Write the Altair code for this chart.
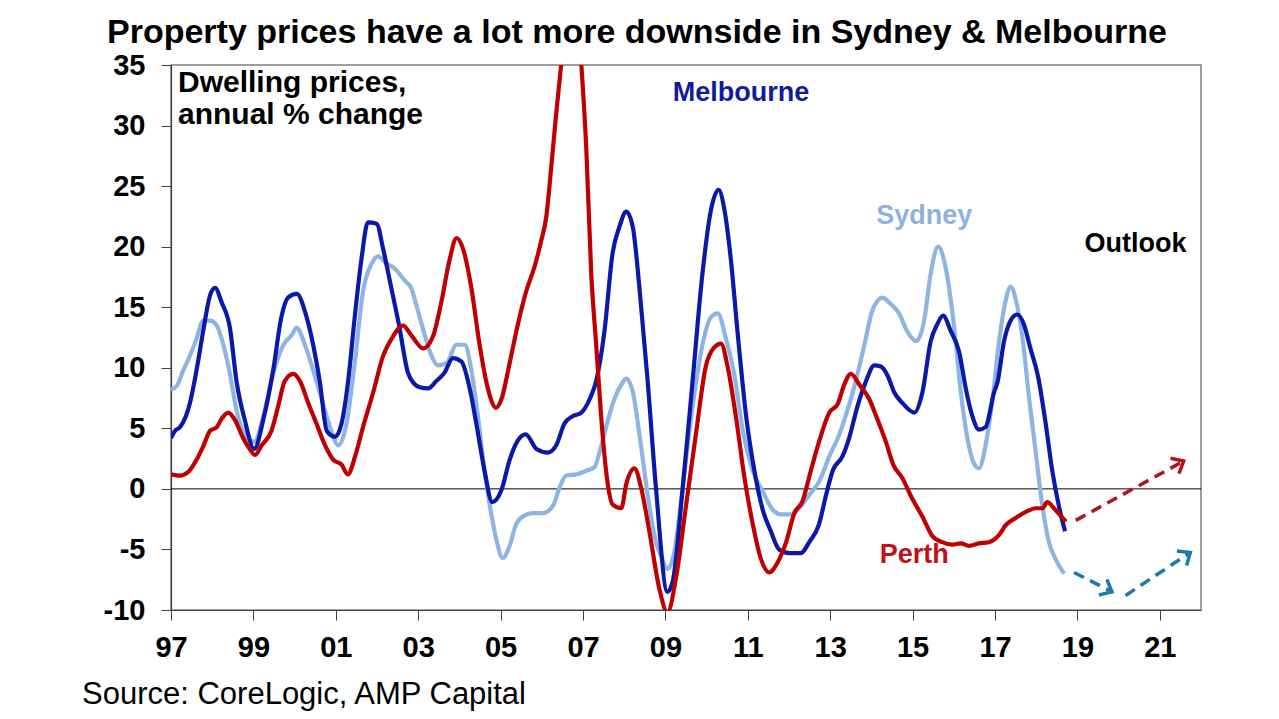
import math
import altair as alt
import pandas as pd

# ---------------- data ----------------
x_tick_years = [1997, 1999, 2001, 2003, 2005, 2007, 2009, 2011, 2013, 2015, 2017, 2019, 2021]
y_ticks = [-10, -5, 0, 5, 10, 15, 20, 25, 30, 35]

mel_years = [1997.0, 1997.1, 1997.22, 1997.46, 1997.62, 1997.78, 1997.95, 1998.07, 1998.23, 1998.43,
             1998.59, 1998.79, 1999.02, 1999.24, 1999.48, 1999.68, 1999.84, 2000.05, 2000.29, 2000.45,
             2000.61, 2000.78, 2000.98, 2001.14, 2001.30, 2001.46, 2001.62, 2001.78, 2001.99, 2002.15,
             2002.31, 2002.53, 2002.75, 2002.9, 2003.04, 2003.24, 2003.44, 2003.64, 2003.84, 2004.05,
             2004.25, 2004.41, 2004.61, 2004.80, 2005.02, 2005.22, 2005.42, 2005.61, 2005.87, 2006.15,
             2006.35, 2006.55, 2006.75, 2006.96, 2007.16, 2007.32, 2007.52, 2007.72, 2007.88, 2008.05,
             2008.21, 2008.37, 2008.57, 2008.77, 2009.05, 2009.18, 2009.42, 2009.66, 2009.90, 2010.11,
             2010.29, 2010.43, 2010.59, 2010.75, 2010.96, 2011.16, 2011.36, 2011.56, 2011.76, 2012.01,
             2012.29, 2012.49, 2012.73, 2012.90, 2013.06, 2013.30, 2013.46, 2013.66, 2013.87, 2014.07,
             2014.23, 2014.40, 2014.55, 2014.75, 2015.04, 2015.24, 2015.44, 2015.60, 2015.74, 2015.93,
             2016.13, 2016.29, 2016.45, 2016.61, 2016.77, 2016.98, 2017.06, 2017.22, 2017.38, 2017.54,
             2017.70, 2017.86, 2018.05, 2018.23, 2018.39, 2018.55, 2018.70]
mel_vals = [4.2, 4.8, 5.1, 7.1, 9.8, 13.0, 16.0, 16.6, 15.4, 13.3,
            8.9, 5.7, 3.3, 5.7, 9.8, 14.2, 15.8, 16.1, 14.2, 11.9,
            8.9, 4.8, 4.3, 5.4, 8.9, 14.2, 18.9, 22.0, 21.9, 19.8,
            17.2, 13.6, 9.6, 8.7, 8.4, 8.3, 8.9, 9.6, 10.8, 10.5,
            8.3, 5.4, 1.5, -1.1, -0.1, 2.4, 4.0, 4.5, 3.3, 3.0,
            3.6, 5.4, 6.0, 6.3, 7.4, 8.9, 13.0, 19.5, 21.6, 22.9,
            21.6, 16.6, 8.9, 0.1, -8.5, -7.6, 0.1, 8.9, 17.8, 23.1,
            24.7, 23.1, 18.9, 13.0, 6.0, 1.5, -1.7, -3.5, -5.0, -5.3,
            -5.3, -4.4, -2.9, -0.5, 1.5, 2.7, 4.2, 6.8, 8.9, 10.2,
            10.1, 9.3, 8.0, 7.1, 6.3, 8.0, 12.2, 13.6, 14.3, 13.0,
            11.3, 8.3, 6.0, 4.9, 5.1, 8.0, 8.8, 12.2, 13.9, 14.4,
            13.6, 11.6, 9.2, 5.4, 1.5, -1.4, -3.5]

syd_years = [1997.0, 1997.14, 1997.30, 1997.46, 1997.62, 1997.78, 1997.95, 1998.11, 1998.27, 1998.43,
             1998.59, 1998.79, 1999.02, 1999.24, 1999.48, 1999.73, 1999.93, 2000.05, 2000.25, 2000.45,
             2000.66, 2000.86, 2001.06, 2001.26, 2001.46, 2001.66, 2001.87, 2002.03, 2002.23, 2002.43,
             2002.67, 2002.83, 2002.96, 2003.16, 2003.32, 2003.48, 2003.69, 2003.93, 2004.13, 2004.29,
             2004.45, 2004.61, 2004.77, 2004.89, 2005.05, 2005.22, 2005.38, 2005.58, 2005.78, 2006.03,
             2006.27, 2006.43, 2006.59, 2006.84, 2007.08, 2007.28, 2007.40, 2007.56, 2007.76, 2007.93,
             2008.05, 2008.21, 2008.37, 2008.57, 2008.77, 2008.9, 2009.05, 2009.21, 2009.42, 2009.66,
             2009.90, 2010.11, 2010.27, 2010.47, 2010.67, 2010.88, 2011.12, 2011.36, 2011.60, 2011.81,
             2012.05, 2012.25, 2012.49, 2012.73, 2012.98, 2013.22, 2013.42, 2013.62, 2013.83, 2014.03,
             2014.27, 2014.43, 2014.67, 2014.87, 2015.09, 2015.28, 2015.44, 2015.62, 2015.80, 2016.01,
             2016.17, 2016.33, 2016.49, 2016.61, 2016.77, 2016.94, 2017.10, 2017.25, 2017.38, 2017.52,
             2017.67, 2017.83, 2017.99, 2018.15, 2018.31, 2018.47, 2018.68]
syd_vals = [8.2, 8.5, 9.8, 11.0, 12.4, 13.9, 13.9, 13.5, 11.9, 9.5,
            6.5, 4.5, 3.9, 6.0, 9.5, 11.9, 12.7, 13.3, 11.9, 9.8,
            7.4, 5.1, 3.6, 5.4, 10.4, 16.3, 18.6, 19.2, 18.6, 18.2,
            17.2, 16.6, 15.1, 12.7, 11.0, 10.2, 10.4, 11.9, 11.9, 9.8,
            6.0, 1.5, -2.0, -4.1, -5.7, -4.7, -2.9, -2.2, -2.0, -2.0,
            -1.4, 0.1, 1.1, 1.2, 1.5, 1.8, 3.0, 5.1, 7.4, 8.6,
            9.1, 8.0, 4.5, -0.5, -4.4, -5.6, -6.6, -5.3, 0.1, 6.8,
            11.9, 14.2, 14.5, 12.4, 9.5, 4.8, 1.5, -0.2, -1.7, -2.1,
            -2.1, -1.6, -0.5, 0.6, 2.7, 4.5, 6.5, 8.9, 11.9, 14.8,
            15.8, 15.4, 14.5, 13.0, 12.2, 13.9, 17.8, 20.0, 18.3, 13.3,
            8.0, 4.2, 2.1, 1.7, 3.6, 7.4, 12.2, 15.4, 16.7, 15.4,
            12.4, 7.4, 3.0, -1.4, -4.4, -5.8, -7.0]

per_years = [1997.0, 1997.22, 1997.42, 1997.62, 1997.78, 1997.95, 1998.11, 1998.23, 1998.39, 1998.55,
             1998.75, 1998.91, 1999.04, 1999.20, 1999.44, 1999.60, 1999.76, 1999.97, 2000.13, 2000.33,
             2000.53, 2000.74, 2000.94, 2001.14, 2001.29, 2001.47, 2001.66, 2001.91, 2002.15, 2002.39,
             2002.63, 2002.83, 2003.12, 2003.36, 2003.56, 2003.76, 2003.93, 2004.09, 2004.29, 2004.49,
             2004.69, 2004.89, 2005.02, 2005.22, 2005.42, 2005.62, 2005.82, 2005.98, 2006.11, 2006.23,
             2006.35, 2006.47, 2006.6, 2006.72, 2006.85, 2006.96, 2007.08, 2007.20, 2007.32, 2007.44,
             2007.56, 2007.72, 2007.93, 2008.05, 2008.25, 2008.41, 2008.61, 2008.85, 2009.05, 2009.26,
             2009.50, 2009.74, 2009.98, 2010.19, 2010.35, 2010.51, 2010.71, 2010.92, 2011.12, 2011.32,
             2011.52, 2011.72, 2011.93, 2012.13, 2012.33, 2012.53, 2012.73, 2012.98, 2013.18, 2013.34,
             2013.50, 2013.71, 2013.95, 2014.15, 2014.35, 2014.53, 2014.75, 2014.99, 2015.24, 2015.48,
             2015.72, 2015.96, 2016.17, 2016.37, 2016.61, 2016.85, 2017.10, 2017.26, 2017.50, 2017.75,
             2017.99, 2018.15, 2018.27, 2018.43, 2018.59, 2018.72]
per_vals = [1.2, 1.1, 1.4, 2.4, 3.5, 4.8, 5.1, 5.8, 6.3, 5.7,
            4.2, 3.3, 2.8, 3.6, 4.8, 6.8, 8.9, 9.5, 8.9, 7.1,
            5.4, 3.6, 2.4, 2.0, 1.2, 2.7, 5.1, 8.0, 11.0, 12.6,
            13.5, 12.7, 11.6, 12.6, 15.4, 18.9, 20.7, 19.8, 16.6, 11.9,
            8.3, 6.7, 7.4, 10.4, 13.6, 16.3, 18.3, 20.4, 22.5, 26.6,
            31.0, 35.0, 39.5, 41.5, 39.5, 35.0, 28.1, 17.8, 11.9, 6.0,
            1.5, -1.3, -1.6, 0.4, 1.7, 0.1, -3.5, -8.2, -10.2, -7.3,
            -1.4, 4.5, 10.1, 11.7, 12.0, 10.1, 6.0, 0.9, -2.9, -5.8,
            -6.9, -6.1, -4.4, -2.0, -1.0, 1.5, 3.9, 6.3, 7.0, 8.6,
            9.5, 8.6, 7.4, 5.7, 3.9, 2.0, 0.9, -0.8, -2.3, -3.9,
            -4.4, -4.6, -4.5, -4.7, -4.5, -4.4, -3.8, -3.0, -2.4, -1.9,
            -1.6, -1.6, -1.1, -1.6, -2.2, -2.7]

# outlook arrows: (segment, start year, start value, end year, end value, colour)
outlook_seg = ["perth", "syd_down", "syd_up"]
outlook_x0 = [2018.96, 2018.92, 2020.17]
outlook_y0 = [-2.6, -6.9, -8.8]
outlook_x1 = [2021.58, 2019.84, 2021.74]
outlook_y1 = [2.3, -8.5, -5.25]
outlook_col = ["#b5121b", "#1c79ad", "#1c79ad"]

# annotations (text, year, value, colour, font size)
ann_text = ["Dwelling prices,", "annual % change", "Melbourne", "Sydney", "Outlook", "Perth"]
ann_x = [1997.17, 1997.17, 2009.18, 2014.12, 2019.17, 2014.2]
ann_y = [32.8, 30.1, 32.0, 21.9, 19.6, -6.1]
ann_col = ["#000000", "#000000", "#0f1c9e", "#8fb2dd", "#000000", "#c0101a"]
ann_size = [30, 30, 27, 27, 27, 27]

title_text = "Property prices have a lot more downside in Sydney & Melbourne"
source_text = "Source: CoreLogic, AMP Capital"

MEL_COL = "#0b19a8"
SYD_COL = "#8db4e2"
PER_COL = "#c00000"

# ---------------- chart ----------------
W, H = 1030, 545
X_DOM = [1997, 2022]
Y_DOM = [-10, 35]
FONT = "Liberation Sans"

xs = alt.Scale(domain=X_DOM, nice=False, zero=False)
ys = alt.Scale(domain=Y_DOM, nice=False, zero=False)
x_axis = alt.Axis(values=x_tick_years, labelExpr="substring(toString(datum.value), 2, 4)",
                  title=None, labelPadding=13, labelFlush=False)
y_axis = alt.Axis(values=y_ticks, labelExpr="toString(datum.value)", title=None, labelPadding=16)


def X(field="year"):
    return alt.X(f"{field}:Q", scale=xs, axis=x_axis)


def Y(field="val"):
    return alt.Y(f"{field}:Q", scale=ys, axis=y_axis)


def line_layer(years, vals, color):
    df = pd.DataFrame({"year": years, "val": vals})
    return alt.Chart(df).mark_line(color=color, strokeWidth=4.2, clip=True, interpolate="monotone",
                                   strokeJoin="round").encode(x=X(), y=Y())


zero = alt.Chart(pd.DataFrame({"val": [0]})).mark_rule(color="#000000", strokeWidth=1).encode(y=Y())

syd = line_layer(syd_years, syd_vals, SYD_COL)
mel = line_layer(mel_years, mel_vals, MEL_COL)
per = line_layer(per_years, per_vals, PER_COL)

rows = []
for s, a, b, c, d, col in zip(outlook_seg, outlook_x0, outlook_y0, outlook_x1, outlook_y1, outlook_col):
    rows.append({"seg": s, "year": a, "val": b, "col": col})
    rows.append({"seg": s, "year": c, "val": d, "col": col})
out_df = pd.DataFrame(rows)
outlook = alt.Chart(out_df).mark_line(strokeWidth=3.5, strokeDash=[11, 7]).encode(
    x=X(), y=Y(), detail="seg:N", color=alt.Color("col:N", scale=None))

px_year = W / (X_DOM[1] - X_DOM[0])
px_val = H / (Y_DOM[1] - Y_DOM[0])
heads = []
for s, a, b, c, d, col in zip(outlook_seg, outlook_x0, outlook_y0, outlook_x1, outlook_y1, outlook_col):
    ang = math.degrees(math.atan2(-(d - b) * px_val, (c - a) * px_year)) % 360
    heads.append({"year": c, "val": d, "ang": ang, "col": col})
head_df = pd.DataFrame(heads)
arrow_path = "M -1 -0.85 L 0 0 L -1 0.85"
arrowheads = alt.Chart(head_df).mark_point(shape=arrow_path, filled=False, strokeWidth=3.5,
                                           size=420, opacity=1).encode(
    x=X(), y=Y(), angle=alt.Angle("ang:Q", scale=None), color=alt.Color("col:N", scale=None))

ann_df = pd.DataFrame({"t": ann_text, "year": ann_x, "val": ann_y, "col": ann_col, "fs": ann_size})
annotations = alt.Chart(ann_df).mark_text(align="left", baseline="alphabetic", font=FONT,
                                          fontWeight="bold").encode(
    x=X(), y=Y(), text="t:N", color=alt.Color("col:N", scale=None), size=alt.Size("fs:Q", scale=None))

source = alt.Chart(pd.DataFrame({"t": [source_text]})).mark_text(
    align="left", baseline="middle", font=FONT, fontSize=31, color="#000000").encode(
    x=alt.value(-89), y=alt.value(630), text="t:N")

chart = alt.layer(zero, syd, mel, per, outlook, arrowheads, annotations, source).properties(
    width=W, height=H,
    title=alt.TitleParams(title_text, anchor="start", dx=25, fontSize=34, font=FONT,
                          fontWeight="bold", color="#000000", offset=1),
    padding={"left": 163, "top": 57, "right": 70, "bottom": 108},
    autosize=alt.AutoSizeParams(type="none"),
).configure_view(stroke="#808080", strokeWidth=1.5).configure_axis(
    grid=False, domainColor="#404040", tickColor="#404040", tickSize=10, domainWidth=1.2,
    labelFont=FONT, labelFontWeight="bold", labelFontSize=29, labelColor="#000000",
)

chart.save("out.html", embed_options={"renderer": "svg", "actions": False})
